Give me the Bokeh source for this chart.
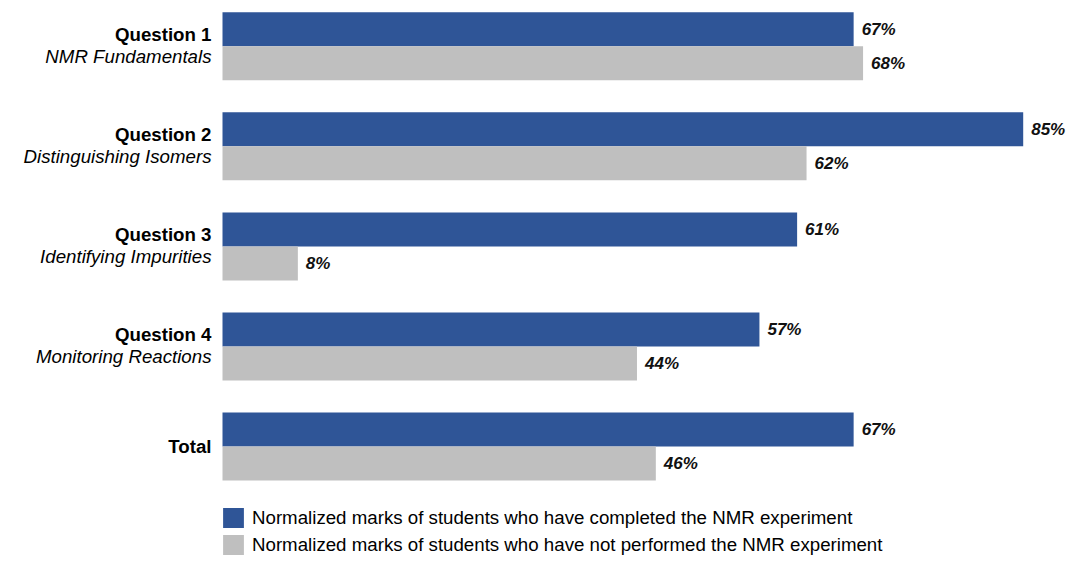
from bokeh.plotting import figure
from bokeh.models import ColumnDataSource, Range1d, Legend, LegendItem
from bokeh.core.properties import value
from bokeh.embed import file_html
from bokeh.resources import INLINE

# ---- data ----
categories = ["Question 1", "Question 2", "Question 3", "Question 4", "Total"]
subtitles = ["NMR Fundamentals", "Distinguishing Isomers", "Identifying Impurities",
             "Monitoring Reactions", ""]
completed = [67, 85, 61, 57, 67]
not_performed = [68, 62, 8, 44, 46]
series_names = ["Normalized marks of students who have completed the NMR experiment",
                "Normalized marks of students who have not performed the NMR experiment"]

# ---- layout constants ----
W, H = 1067, 557
BAR_PX = 34.0           # pixels per bar unit
PITCH = 100.1 / BAR_PX  # group pitch in bar units
X_PX = 9.42             # pixels per percent
X0_PX = 222             # pixel where 0% lies
TOP_PX = 11.7

BLUE = "#2F5597"
GRAY = "#BFBFBF"
FONT = "Liberation Sans"

idx = list(range(len(categories)))
y_done = [i * PITCH + 0.5 for i in idx]
y_not = [i * PITCH + 1.5 for i in idx]
y_center = [i * PITCH + 1.0 for i in idx]

p = figure(width=W, height=H, output_backend="svg", toolbar_location=None,
           x_range=Range1d(-X0_PX / X_PX, (W - X0_PX) / X_PX),
           y_range=Range1d((H - TOP_PX) / BAR_PX, -TOP_PX / BAR_PX),
           min_border=0)
p.axis.visible = False
p.grid.visible = False
p.outline_line_color = None
p.background_fill_color = "white"
p.border_fill_color = "white"

src_done = ColumnDataSource(dict(y=y_done, v=completed,
                                 lab=[f"{v}%" for v in completed]))
src_not = ColumnDataSource(dict(y=y_not, v=not_performed,
                                lab=[f"{v}%" for v in not_performed]))

r_done = p.hbar(y="y", right="v", left=0, height=1.0, source=src_done,
                fill_color=BLUE, line_color=None)
r_not = p.hbar(y="y", right="v", left=0, height=1.0, source=src_not,
               fill_color=GRAY, line_color=None)

for src in (src_done, src_not):
    p.text(x="v", y="y", text="lab", source=src, x_offset=8,
           text_align="left", text_baseline="middle",
           text_font=value(FONT), text_font_size="17px",
           text_font_style="bold italic", text_color="#111111")

# category labels
has_sub = [s != "" for s in subtitles]
src_cat = ColumnDataSource(dict(
    x=[0] * len(idx), y=y_center, t=categories,
    off=[-12 if h else 0 for h in has_sub]))
p.text(x="x", y="y", text="t", source=src_cat, x_offset=-11, y_offset="off",
       text_align="right", text_baseline="middle",
       text_font=value(FONT), text_font_size="18.7px",
       text_font_style="bold", text_color="#000000")
sub_i = [i for i in idx if has_sub[i]]
src_sub = ColumnDataSource(dict(
    x=[0] * len(sub_i), y=[y_center[i] for i in sub_i],
    t=[subtitles[i] for i in sub_i]))
p.text(x="x", y="y", text="t", source=src_sub, x_offset=-11, y_offset=10,
       text_align="right", text_baseline="middle",
       text_font=value(FONT), text_font_size="18.7px",
       text_font_style="italic", text_color="#000000")

legend = Legend(items=[LegendItem(label=series_names[0], renderers=[r_done]),
                       LegendItem(label=series_names[1], renderers=[r_not])],
                location=(220, 0), orientation="vertical",
                glyph_width=26, glyph_height=25, spacing=2, label_standoff=6,
                padding=0, margin=0, border_line_color=None,
                background_fill_alpha=0,
                label_text_font=FONT, label_text_font_size="18.7px",
                label_text_color="#000000", label_height=25)
p.add_layout(legend, "center")

open("out.html", "w").write(file_html(p, INLINE))
